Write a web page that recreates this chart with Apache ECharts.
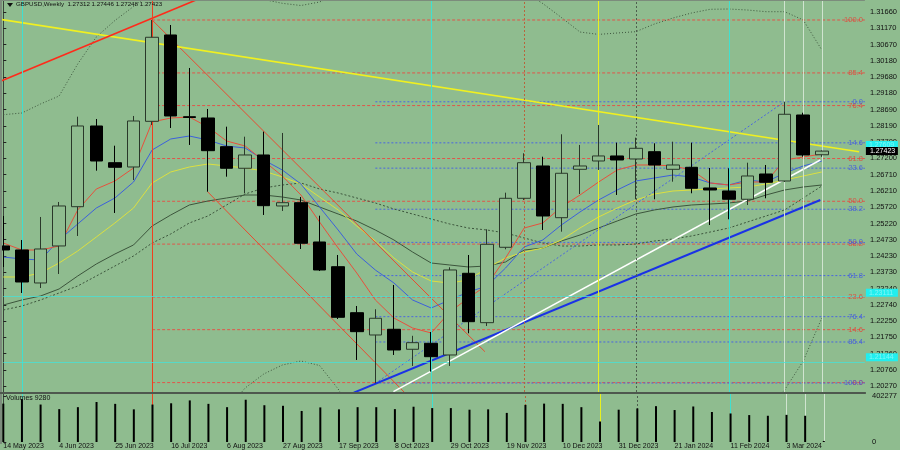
<!DOCTYPE html>
<html><head><meta charset="utf-8">
<script src="https://cdn.jsdelivr.net/npm/echarts@6/dist/echarts.min.js"></script>
<style>html,body{margin:0;padding:0;background:#8FBC8F;}#c{width:900px;height:450px;}</style>
</head><body><div id="c"></div>
<script>
// ---------- DATA ----------
const symbolTitle = 'GBPUSD,Weekly  1.27312 1.27446 1.27248 1.27423';
const volumeTitle = 'Volumes 9280';
const dateLabels = ['14 May 2023','4 Jun 2023','25 Jun 2023','16 Jul 2023','6 Aug 2023','27 Aug 2023','17 Sep 2023','8 Oct 2023','29 Oct 2023','19 Nov 2023','10 Dec 2023','31 Dec 2023','21 Jan 2024','11 Feb 2024','3 Mar 2024'];
const dateLabelBars = [0,3,6,9,12,15,18,21,24,27,30,33,36,39,42];
const priceTicks = [1.31660,1.31170,1.30670,1.30180,1.29680,1.29180,1.28690,1.28190,1.27700,1.27200,1.26710,1.26210,1.25720,1.25220,1.24730,1.24230,1.23730,1.23240,1.22740,1.22250,1.21750,1.21260,1.20760,1.20270];
const volumeTicks = [0, 402277];

const opens  = [1.24534,1.24412,1.23407,1.24534,1.25730,1.28188,1.27070,1.26939,1.28330,1.30960,1.28471,1.28432,1.27558,1.26900,1.27305,1.25752,1.25852,1.24655,1.23903,1.22502,1.21823,1.21997,1.21388,1.21570,1.21214,1.23702,1.22198,1.24494,1.25986,1.26970,1.25395,1.26869,1.27122,1.27275,1.27183,1.27405,1.26869,1.26930,1.26300,1.26209,1.25956,1.26726,1.26513,1.28523,1.27312];
const closes = [1.24412,1.23437,1.24442,1.25752,1.28188,1.27122,1.26930,1.28340,1.30890,1.28493,1.28447,1.27436,1.26900,1.27305,1.25761,1.25852,1.24616,1.23803,1.22362,1.21924,1.22332,1.21366,1.21589,1.21162,1.23803,1.22228,1.24585,1.25986,1.27070,1.25447,1.26748,1.26970,1.27275,1.27153,1.27509,1.27000,1.27000,1.26291,1.26239,1.25956,1.26665,1.26474,1.28545,1.27305,1.27423];
const lows   = [1.23894,1.23102,1.23254,1.23681,1.24838,1.26827,1.25539,1.26544,1.28219,1.28127,1.27610,1.26187,1.26644,1.26139,1.25478,1.25600,1.24442,1.23772,1.22310,1.21062,1.20352,1.21214,1.20879,1.20705,1.20879,1.21875,1.22097,1.24433,1.25935,1.25021,1.24969,1.26117,1.26848,1.26087,1.25956,1.25956,1.26492,1.26139,1.25173,1.25347,1.25782,1.25986,1.26483,1.27253,1.27248];
const highs  = [1.25447,1.24716,1.25417,1.25874,1.28471,1.28401,1.27588,1.28493,1.31416,1.31264,1.29955,1.28706,1.28167,1.27862,1.28015,1.27975,1.26026,1.25456,1.24259,1.22706,1.22606,1.23346,1.21798,1.21914,1.23885,1.24259,1.25042,1.26157,1.27357,1.27253,1.27935,1.27610,1.28219,1.27680,1.27832,1.27661,1.27710,1.27680,1.26909,1.26900,1.27070,1.27000,1.28928,1.28593,1.27446];
const volumes = [335000,375000,327000,287000,304000,349000,333000,285000,327000,338000,363000,333000,304000,369000,321000,316000,271000,302000,285000,304000,304000,287000,308000,296000,296000,282000,285000,254000,324000,335000,333000,304000,179000,282000,293000,313000,279000,310000,262000,249000,235000,229000,237000,229000,9280];

const maRed = [1.24624,1.24411,1.24411,1.24533,1.25630,1.26269,1.26513,1.26909,1.28310,1.28431,1.28462,1.28157,1.27731,1.27579,1.27122,1.26665,1.26086,1.25264,1.24472,1.23711,1.22889,1.22340,1.22036,1.21884,1.22523,1.22949,1.23345,1.24168,1.25081,1.25234,1.25721,1.26086,1.26482,1.26848,1.27000,1.27000,1.26970,1.26848,1.26452,1.26391,1.26482,1.26482,1.27152,1.27244,1.27335];
const maBlue = [1.24198,1.24137,1.24107,1.24716,1.25203,1.25690,1.25995,1.26482,1.27457,1.27792,1.27883,1.27761,1.27579,1.27518,1.27152,1.26848,1.26421,1.25721,1.25020,1.24289,1.23802,1.23406,1.22889,1.22645,1.22889,1.23132,1.23315,1.23863,1.24503,1.24716,1.25173,1.25569,1.25934,1.26239,1.26513,1.26604,1.26695,1.26635,1.26452,1.26391,1.26543,1.26482,1.26756,1.26970,1.27122];
const maYellow = [1.23589,1.23589,1.23711,1.24015,1.24381,1.24807,1.25234,1.25690,1.26452,1.26787,1.26939,1.27030,1.26970,1.26909,1.26817,1.26635,1.26421,1.26025,1.25630,1.25142,1.24685,1.24168,1.23741,1.23467,1.23406,1.23498,1.23863,1.24168,1.24350,1.24472,1.24716,1.25081,1.25416,1.25690,1.25934,1.26117,1.26208,1.26239,1.26269,1.26300,1.26330,1.26421,1.26543,1.26665,1.26787];
const maGreen = [1.22736,1.22889,1.23010,1.23224,1.23619,1.23985,1.24289,1.24564,1.25142,1.25477,1.25782,1.25904,1.25995,1.26086,1.26086,1.26025,1.25934,1.25721,1.25508,1.25294,1.25020,1.24716,1.24350,1.24015,1.23954,1.23894,1.23924,1.24046,1.24411,1.24472,1.24685,1.24868,1.25081,1.25294,1.25508,1.25630,1.25721,1.25782,1.25812,1.25843,1.25904,1.26086,1.26239,1.26330,1.26391];
const maGreenDotted = [1.22584,1.22706,1.22889,1.23102,1.23315,1.23619,1.23924,1.24229,1.24624,1.24899,1.25234,1.25447,1.25782,1.26117,1.26300,1.26391,1.26452,1.26269,1.26147,1.25995,1.25843,1.25660,1.25508,1.25355,1.25203,1.25081,1.25020,1.24929,1.24777,1.24624,1.24533,1.24533,1.24564,1.24564,1.24594,1.24685,1.24746,1.24838,1.24959,1.25081,1.25264,1.25447,1.25630,1.25995,1.26360];
const bandUpper = [1.28532,1.28584,1.28858,1.29101,1.30076,1.30898,1.31401,1.31827,1.32269,null,null,null,null,1.32330,1.32040,1.31924,1.31857,1.31964,1.32208,null,null,null,null,null,null,null,null,null,1.32269,1.31918,1.31492,1.31050,1.30977,1.31020,1.31060,1.31294,1.31477,1.31629,1.31742,1.31751,1.31720,1.31669,1.31669,1.31416,1.30502];
const bandLower = [null,null,null,null,null,null,null,null,null,null,null,null,1.19538,1.20209,1.20635,1.20909,1.21031,1.20894,1.20178,1.19234,null,null,null,null,null,null,null,null,null,null,null,null,null,null,null,null,null,null,null,null,null,1.19538,1.20148,1.21031,1.22340];

// trend lines: [barIndex, price] end points
const tlYellow = [[-0.18,1.31437],[46.0,1.27405]];
const tlRedTop = [[-0.18,1.29546],[13.21,1.32695]];
const tlRedA = [[8,1.31416],[25.89,1.21314]];
const tlRedB = [[10.98,1.26187],[21.61,1.20047]];
const tlBlue = [[18.84,1.20066],[43.92,1.25934]];
const tlWhite = [[20.97,1.20096],[43.92,1.27152]];
const tlBlueDotted = [[20,1.20352],[42,1.28928]];

const fibRedStartBar = 8;
const fibRedLevels = ['100.0','85.4','76.4','61.8','50.0','38.2','23.6','14.6','0.0'];
const fibRedPrices = [1.31416,1.29804,1.28810,1.27197,1.25895,1.24591,1.22979,1.21985,1.20373];
const fibBlueStartBar = 20;
const fibBlueLevels = ['0.0','14.6','23.6','38.2','50.0','61.8','76.4','85.4','100.0'];
const fibBluePrices = [1.28925,1.27675,1.26904,1.25653,1.24643,1.23632,1.22381,1.21610,1.20360];

const cyanLevels = [1.23111,1.21144];
const cyanTags = [1.27609,1.23111,1.21144];
const lastPrice = 1.27423;
const vLineBars = [1,8,23,28,32,34,39,42,43,44];

// ---------- STYLE ----------
const BG = '#8FBC8F';
const FONT = '"Liberation Sans", Arial, sans-serif';
const XMAX = 46.315;
const YMAX = 1.32025, YMIN = 1.200866;
const vLineStyles = [
  {color:'#40E0D0',type:'solid',width:1},
  {color:'#F0401E',type:'solid',width:1},
  {color:'#40E0D0',type:'solid',width:1},
  {color:'#B8643C',type:[2,2],width:1},
  {color:'#E8F020',type:'solid',width:1},
  {color:'#4E5E4E',type:[2,2],width:1},
  {color:'#40E0D0',type:'solid',width:1},
  {color:'#D0E4D0',type:'solid',width:1},
  {color:'#D0E4D0',type:'solid',width:1},
  {color:'#D0E4D0',type:'solid',width:1}
];

function pairs(arr){ return arr.map((v,i)=>[i, v==null ? null : v]); }
function lineS(data, color, type, width, z){
  return {type:'line', xAxisIndex:0, yAxisIndex:0, data, symbol:'none', silent:true, connectNulls:false,
    lineStyle:{color, type, width}, z, clip:true, animation:false};
}

const series = [];
series.push(lineS(pairs(bandUpper), '#3E563E', [1,2], 1, 2));
series.push(lineS(pairs(bandLower), '#3E563E', [1,2], 1, 2));

fibRedPrices.forEach(p=>series.push(lineS([[fibRedStartBar,p],[XMAX,p]], '#E0564A', [3,2], 1, 2)));
fibBluePrices.forEach(p=>series.push(lineS([[fibBlueStartBar,p],[XMAX,p]], '#4A66E0', [2,2], 1, 2)));

const mg = lineS(pairs(maGreen), '#3C553C', 'solid', 1, 3);
mg.markLine = {silent:true, symbol:['none','none'], label:{show:false}, animation:false,
  data: vLineBars.map((b,k)=>({xAxis:b, lineStyle:vLineStyles[k]}))
    .concat(cyanLevels.map(p=>({yAxis:p, lineStyle:{color:'#48E0D4',type:'solid',width:1,opacity:0.8}})))};
series.push(mg);
series.push(lineS(pairs(maGreenDotted), '#3C553C', [2,2], 1, 3));
series.push(lineS(pairs(maYellow), '#DCE040', 'solid', 1, 3));
series.push(lineS(pairs(maBlue), '#3C60DC', 'solid', 1, 3));
series.push(lineS(pairs(maRed), '#E8503C', 'solid', 1, 3));

series.push(lineS(tlRedA, '#E84A30', 'solid', 1, 4));
series.push(lineS(tlRedB, '#E84A30', 'solid', 1, 4));
series.push(lineS(tlBlueDotted, '#4A66E0', [2,2], 1, 4));
series.push(lineS(tlYellow, '#F0F020', 'solid', 1.6, 4));
series.push(lineS(tlRedTop, '#FF2A1A', 'solid', 1.6, 4));
series.push(lineS(tlBlue, '#1A32E6', 'solid', 2, 4));
series.push(lineS(tlWhite, '#FFFFFF', 'solid', 1.5, 4));

series.push({type:'candlestick', xAxisIndex:0, yAxisIndex:0, z:10, barWidth:13, silent:true, clip:true,
  data: opens.map((o,i)=>[i,o,closes[i],lows[i],highs[i]]),
  encode:{x:0, y:[1,2,3,4]},
  itemStyle:{color:BG, color0:'#000000', borderColor:'#2A382A', borderColor0:'#000000', borderWidth:1}});

function fibLabels(prices, levels, color){
  return {type:'scatter', xAxisIndex:0, yAxisIndex:0, z:12, silent:true, symbolSize:2, clip:false,
    itemStyle:{color:'rgba(0,0,0,0)'},
    data: prices.map((p,k)=>({value:[XMAX,p], label:{formatter:levels[k]}})),
    label:{show:true, position:'left', distance:1, color, fontSize:7.5, fontFamily:FONT}};
}
series.push(fibLabels(fibRedPrices, fibRedLevels, '#E83C32'));
series.push(fibLabels(fibBluePrices, fibBlueLevels, '#3C50E6'));

series.push({type:'bar', xAxisIndex:1, yAxisIndex:1, barWidth:2, silent:true, z:5,
  data: volumes.map((v,i)=>[i,v]), itemStyle:{color:'#000000'},
  markLine:{silent:true, symbol:['none','none'], label:{show:false}, animation:false,
    data: vLineBars.map((b,k)=>({xAxis:b, lineStyle:vLineStyles[k]}))}});

const chart = echarts.init(document.getElementById('c'), null, {width:900, height:450});
chart.setOption({
  animation:false,
  backgroundColor:BG,
  grid:[{left:3.3, right:32, top:0, height:392},{left:3.3, right:32, top:394, height:50}],
  xAxis:[
    {type:'value', gridIndex:0, min:0, max:XMAX, show:false},
    {type:'value', gridIndex:1, min:0, max:XMAX, axisLine:{show:false}, axisTick:{show:false}, splitLine:{show:false},
      axisLabel:{customValues:dateLabelBars, formatter:(v)=>{const k=dateLabelBars.indexOf(Math.round(v));return k>=0?dateLabels[k]:'';},
        align:'left', margin:1, fontSize:7, color:'#111', fontFamily:FONT}}
  ],
  yAxis:[
    {type:'value', gridIndex:0, position:'right', min:YMIN, max:YMAX, splitLine:{show:false},
      axisLine:{show:true, lineStyle:{color:'#3A443A', width:1}},
      axisTick:{show:true, customValues:priceTicks, length:3, lineStyle:{color:'#222'}},
      axisLabel:{customValues:priceTicks, formatter:(v)=>v.toFixed(5), margin:5, fontSize:7.5, color:'#111', fontFamily:FONT}},
    {type:'value', gridIndex:1, position:'right', min:0, max:419000, splitLine:{show:false},
      axisLine:{show:true, lineStyle:{color:'#3A443A', width:1}},
      axisTick:{show:true, customValues:volumeTicks, length:3, lineStyle:{color:'#222'}},
      axisLabel:{customValues:volumeTicks, formatter:(v)=>String(v), margin:5, fontSize:7.5, color:'#111', fontFamily:FONT}}
  ],
  series
});

const gr = [];
const xAxisR = chart.convertToPixel({xAxisIndex:0}, XMAX);
const yBot = chart.convertToPixel({yAxisIndex:0}, YMIN);
gr.push({type:'rect', shape:{x:0, y:0, width:xAxisR, height:1}, style:{fill:'#7C8C7C'}, z:50});
gr.push({type:'rect', shape:{x:0, y:0, width:2, height:444}, style:{fill:'#7C8C7C'}, z:50});
gr.push({type:'rect', shape:{x:0, y:yBot, width:xAxisR+1, height:2}, style:{fill:'#4E584E'}, z:50});
gr.push({type:'polygon', shape:{points:[[7,3],[13,3],[10,7]]}, style:{fill:'#111'}, z:60});
gr.push({type:'text', x:16, y:1.5, style:{text:symbolTitle, fontSize:6.2, fontFamily:FONT, fill:'#111'}, z:60});
gr.push({type:'text', x:6, y:yBot+3, style:{text:volumeTitle, fontSize:7, fontFamily:FONT, fill:'#111'}, z:60});
cyanTags.forEach(p=>{
  const y = chart.convertToPixel({yAxisIndex:0}, p);
  gr.push({type:'rect', shape:{x:xAxisR+1, y:y-4, width:32, height:8}, style:{fill:'#22EEEE'}, z:60});
  gr.push({type:'text', x:xAxisR+4, y:y-3.5, style:{text:p.toFixed(5), fontSize:7, fontFamily:FONT, fill:'#7FF7F7'}, z:61});
});
{
  const y = chart.convertToPixel({yAxisIndex:0}, lastPrice);
  gr.push({type:'rect', shape:{x:xAxisR+1, y:y-4, width:32, height:8}, style:{fill:'#000'}, z:62});
  gr.push({type:'text', x:xAxisR+5, y:y-3.5, style:{text:lastPrice.toFixed(5), fontSize:7, fontFamily:FONT, fill:'#fff'}, z:63});
}
chart.setOption({graphic:gr});
</script>
</body></html>
